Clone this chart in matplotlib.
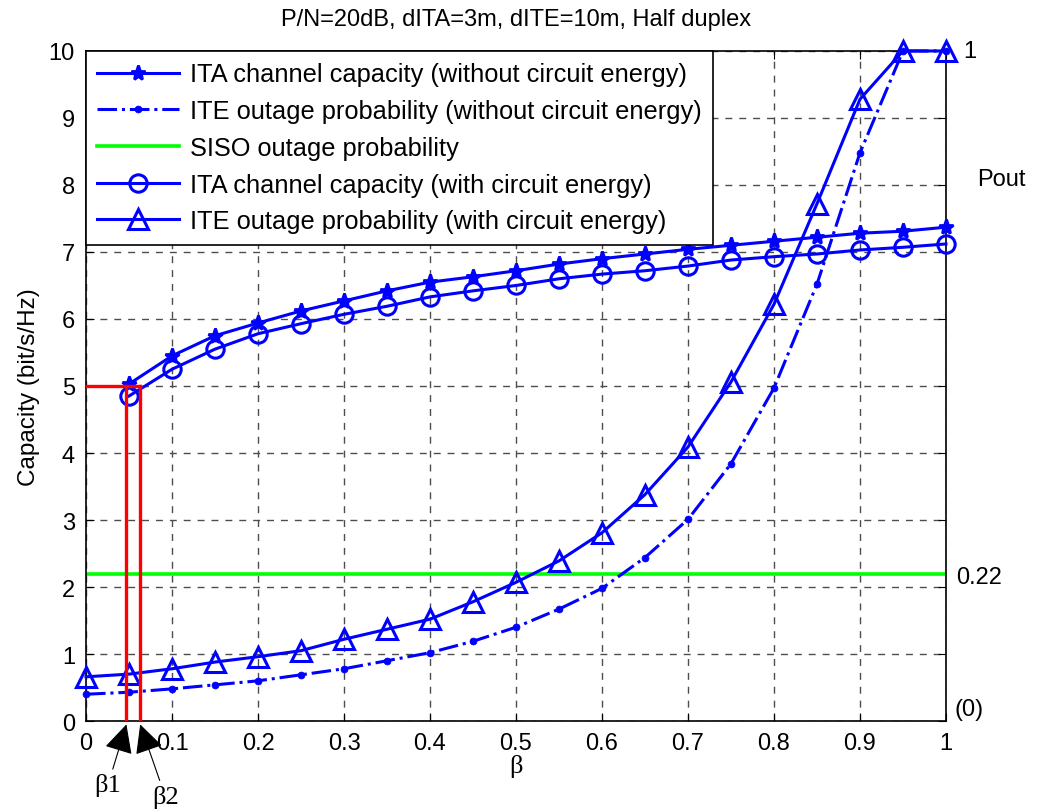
import numpy as np
import matplotlib
matplotlib.use("Agg")
import matplotlib.pyplot as plt

plt.rcParams['font.family'] = ['Liberation Sans', 'DejaVu Sans']

# ── data ──────────────────────────────────────────────────────────────────────

beta_all = [0.0, 0.05, 0.1, 0.15, 0.2, 0.25, 0.3, 0.35, 0.4, 0.45, 0.5,
            0.55, 0.6, 0.65, 0.7, 0.75, 0.8, 0.85, 0.9, 0.95, 1.0]
beta_cap = beta_all[1:]

ita_no_circuit = [5.03, 5.45, 5.75, 5.94, 6.12, 6.27, 6.42, 6.55, 6.63, 6.72,
                  6.82, 6.90, 6.97, 7.04, 7.10, 7.16, 7.22, 7.28, 7.31, 7.37]
ita_circuit = [4.85, 5.25, 5.55, 5.78, 5.93, 6.07, 6.19, 6.33, 6.42, 6.50,
               6.60, 6.67, 6.72, 6.79, 6.88, 6.93, 6.97, 7.03, 7.07, 7.12]

ite_no_circuit = [0.40, 0.43, 0.48, 0.54, 0.60, 0.69, 0.78, 0.90, 1.02, 1.19, 1.40,
                  1.67, 1.98, 2.44, 3.01, 3.84, 4.97, 6.52, 8.48, 10.0, 10.0]
ite_circuit = [0.66, 0.70, 0.78, 0.88, 0.96, 1.05, 1.22, 1.37, 1.52, 1.78, 2.07,
               2.39, 2.81, 3.38, 4.09, 5.06, 6.22, 7.72, 9.28, 10.0, 10.0]

siso_level = 2.2
target_capacity = 5.0
beta1, beta2 = 0.047, 0.063

legend_labels = [
    "ITA channel capacity (without circuit energy)",
    "ITE outage probability (without circuit energy)",
    "SISO outage probability",
    "ITA channel capacity (with circuit energy)",
    "ITE outage probability (with circuit energy)",
]

FS = 17

# ── plot ──────────────────────────────────────────────────────────────────────

fig = plt.figure(figsize=(10.4, 8.12), dpi=100)
ax = fig.add_axes([0.0827, 0.1108, 0.8269, 0.8252])

blue = (0, 0, 1)
lw = 2.2

ax.plot(beta_cap, ita_no_circuit, '-', color=blue, lw=lw, marker='*',
        ms=11, mew=2, label=legend_labels[0], zorder=3, clip_on=False)
ax.plot(beta_all, ite_no_circuit, '-.', color=blue, lw=lw, marker='o',
        ms=5, mew=0.5, label=legend_labels[1], zorder=3, clip_on=False)
ax.axhline(siso_level, color=(0, 1, 0), lw=2.6, label=legend_labels[2], zorder=2)
ax.plot(beta_cap, ita_circuit, '-', color=blue, lw=lw, marker='o', ms=12.5,
        mfc='none', mew=2.2, label=legend_labels[3], zorder=3, clip_on=False)
ax.plot(beta_all, ite_circuit, '-', color=blue, lw=lw, marker='^', ms=15,
        mfc='none', mew=2.2, label=legend_labels[4], zorder=3, clip_on=False)

# red target bracket
red = (1, 0, 0)
ax.plot([0, beta2], [target_capacity, target_capacity], color=red, lw=2.4, zorder=4)
ax.plot([beta1, beta1], [0, target_capacity], color=red, lw=2.4, zorder=4)
ax.plot([beta2, beta2], [0, target_capacity], color=red, lw=2.4, zorder=4)

ax.set_xlim(0, 1)
ax.set_ylim(0, 10)
ax.set_xticks(np.arange(0, 1.01, 0.1))
ax.set_xticklabels(["0", "0.1", "0.2", "0.3", "0.4", "0.5", "0.6", "0.7", "0.8", "0.9", "1"])
ax.set_yticks(range(0, 11))
ax.tick_params(direction='in', top=True, right=True, labelsize=FS, length=6, pad=8)
ax.grid(True, color='0.3', linestyle=(0, (5, 5)), lw=1)
for s in ax.spines.values():
    s.set_linewidth(1.2)

ax.set_ylabel("Capacity (bit/s/Hz)", fontsize=17.5, labelpad=6)
ax.set_xlabel("β", fontsize=19, family='Liberation Serif', labelpad=0)
ax.set_title("P/N=20dB, dITA=3m, dITE=10m, Half duplex", fontsize=FS, pad=19)

leg = ax.legend(loc='upper left', fontsize=18.3, fancybox=False, framealpha=1,
                edgecolor='black', borderaxespad=0, handlelength=3.2,
                handletextpad=0.45, borderpad=0.45, labelspacing=0.5)
leg.get_frame().set_linewidth(1.2)
leg.set_zorder(5)

# right-hand Pout scale notes
ax.text(1.02, 10, "1", fontsize=FS, va='center', clip_on=False)
ax.text(1.036, 8.09, "Pout", fontsize=FS, va='center', clip_on=False)
ax.text(1.012, 2.15, "0.22", fontsize=FS, va='center', clip_on=False)
ax.text(1.01, 0.18, "(0)", fontsize=FS, va='center', clip_on=False)

# beta markers
arrow = dict(arrowstyle='-|>,head_length=0.9,head_width=0.45', color='black',
             lw=0.8, mutation_scale=20, shrinkA=1, shrinkB=0)
ax.annotate("β1", xy=(beta1, -0.05), xytext=(0.0256, -0.95), fontsize=19,
            family='Liberation Serif', ha='center', va='center',
            arrowprops=arrow, annotation_clip=False)
ax.annotate("β2", xy=(beta2, -0.05), xytext=(0.092, -1.12), fontsize=19,
            family='Liberation Serif', ha='center', va='center',
            arrowprops=arrow, annotation_clip=False)

fig.savefig("out.png", dpi=100)
